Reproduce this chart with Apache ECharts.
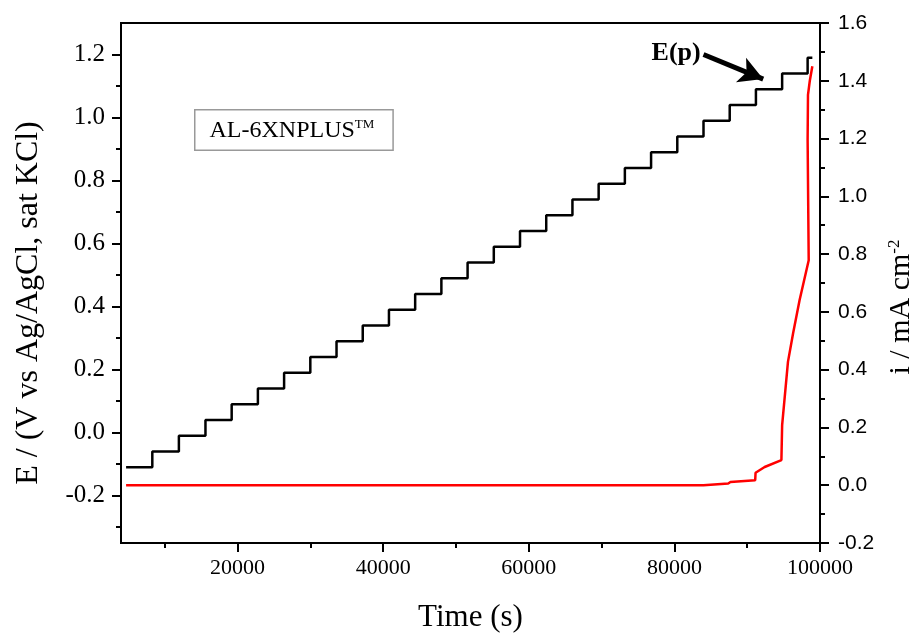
<!DOCTYPE html>
<html lang="en">
<head>
<meta charset="UTF-8" />
<title>AL-6XNPLUS</title>
<script src="https://cdn.jsdelivr.net/npm/echarts@6/dist/echarts.min.js"></script>
<style type="text/css">
    html, body { margin: 0; padding: 0; background: #fff; }
    #chart { width: 921px; height: 633px; }
</style>
</head>
<body>
<div id="chart"></div>
<script type="text/javascript">
// potential staircase: start time, then the time of every step (s)
var stepTimes = [4700, 8300, 11950, 15600, 19200, 22800, 26400, 30000, 33600, 37200,
    40800, 44400, 48000, 51600, 55200, 58800, 62400, 66000, 69600, 73200,
    76800, 80400, 84000, 87600, 91200, 94800, 98300];
// potential held after each of those times (V vs Ag/AgCl)
var stepLevels = [-0.11, -0.06, -0.01, 0.04, 0.09, 0.14, 0.19, 0.24, 0.29, 0.34,
    0.39, 0.44, 0.49, 0.54, 0.59, 0.64, 0.69, 0.74, 0.79, 0.84,
    0.89, 0.94, 0.99, 1.04, 1.09, 1.14, 1.19];
var endTime = 98950;

// current density (mA cm-2)
var currentTimes = [4700, 84000, 87400, 87700, 91100, 91150, 92400, 94700, 94800,
    95600, 96300, 97200, 98450, 98300, 98350, 98600, 98950];
var currentValues = [0.0, 0.0, 0.006, 0.011, 0.017, 0.043, 0.063, 0.087, 0.208,
    0.427, 0.525, 0.641, 0.779, 1.195, 1.351, 1.40, 1.45];

var xTicks = [20000, 40000, 60000, 80000, 100000];
var xMinorTicks = [10000, 30000, 50000, 70000, 90000];
var eTicks = [-0.2, 0.0, 0.2, 0.4, 0.6, 0.8, 1.0, 1.2];
var eMinorTicks = [-0.3, -0.1, 0.1, 0.3, 0.5, 0.7, 0.9, 1.1];

// E(p) arrow, tail and tip in data units
var arrowTail = [84000, 1.20];
var arrowTip = [92200, 1.122];

var serif = 'Liberation Serif';
var sans = 'Liberation Sans';

var potentialData = [];
for (var i = 0; i < stepTimes.length; i++) {
    potentialData.push([stepTimes[i], stepLevels[i]]);
}
potentialData.push([endTime, stepLevels[stepLevels.length - 1]]);

var currentData = [];
for (var j = 0; j < currentTimes.length; j++) {
    currentData.push([currentTimes[j], currentValues[j]]);
}

var chart = echarts.init(document.getElementById('chart'));
var blackLine = { show: true, onZero: false, lineStyle: { color: '#000', width: 2 } };

var option = {
    backgroundColor: '#fff',
    animation: false,
    grid: {
        left: 121, right: 101, top: 23, bottom: 90,
        show: true, borderColor: '#000', borderWidth: 2,
        containLabel: false, outerBoundsMode: 'none'
    },
    xAxis: [
        {
            type: 'value', min: 4000, max: 100000, position: 'bottom',
            axisLine: blackLine,
            axisTick: { show: true, inside: false, length: 9, customValues: xTicks, lineStyle: { color: '#000', width: 2 } },
            axisLabel: {
                customValues: xTicks, color: '#000', fontFamily: serif, fontSize: 22, margin: 14,
                formatter: function (v) { return String(v); }
            },
            splitLine: { show: false },
            name: 'Time (s)', nameLocation: 'middle', nameGap: 59,
            nameTextStyle: { color: '#000', fontFamily: serif, fontSize: 31 }
        },
        {
            type: 'value', min: 4000, max: 100000, position: 'bottom',
            axisLine: { show: false, onZero: false },
            axisTick: { show: true, inside: false, length: 5, customValues: xMinorTicks, lineStyle: { color: '#000', width: 2 } },
            axisLabel: { show: false },
            splitLine: { show: false }
        }
    ],
    yAxis: [
        {
            type: 'value', min: -0.35, max: 1.3, position: 'left',
            axisLine: blackLine,
            axisTick: { show: true, inside: false, length: 9, customValues: eTicks, lineStyle: { color: '#000', width: 2 } },
            axisLabel: {
                customValues: eTicks, color: '#000', fontFamily: serif, fontSize: 25, margin: 16,
                formatter: function (v) { return v.toFixed(1); }
            },
            splitLine: { show: false },
            name: 'E / (V vs Ag/AgCl, sat KCl)', nameLocation: 'middle', nameGap: 76, nameRotate: 90,
            nameTextStyle: { color: '#000', fontFamily: serif, fontSize: 32, padding: [0, 40, 0, 0] }
        },
        {
            type: 'value', min: -0.2, max: 1.6, interval: 0.2, position: 'right',
            axisLine: blackLine,
            axisTick: { show: true, inside: false, length: 9, lineStyle: { color: '#000', width: 2 } },
            minorTick: { show: true, splitNumber: 2, length: 5, lineStyle: { color: '#000', width: 2 } },
            axisLabel: {
                color: '#000', fontFamily: sans, fontSize: 21, margin: 18,
                formatter: function (v) { return v.toFixed(1); }
            },
            splitLine: { show: false },
            minorSplitLine: { show: false },
            name: 'i / mA cm{sup|-2}', nameLocation: 'middle', nameGap: 66, nameRotate: 90,
            nameTextStyle: {
                color: '#000', fontFamily: serif, fontSize: 30, padding: [0, 48, 0, 0],
                rich: { sup: { fontFamily: serif, fontSize: 17, color: '#000', verticalAlign: 'top' } }
            }
        },
        {
            type: 'value', min: -0.35, max: 1.3, position: 'left',
            axisLine: { show: false, onZero: false },
            axisTick: { show: true, inside: false, length: 5, customValues: eMinorTicks, lineStyle: { color: '#000', width: 2 } },
            axisLabel: { show: false },
            splitLine: { show: false }
        }
    ],
    graphic: [
        {
            type: 'text', left: 194, top: 109, z: 10,
            style: {
                text: '{a|AL-6XNPLUS}{s|TM}',
                rich: {
                    a: { fontFamily: serif, fontSize: 24, fill: '#000' },
                    s: { fontFamily: serif, fontSize: 13, fill: '#000', verticalAlign: 'top' }
                },
                backgroundColor: '#fff', borderColor: '#999', borderWidth: 1.5,
                padding: [8, 18, 7, 14]
            }
        }
    ],
    series: [
        {
            name: 'E', type: 'line', xAxisIndex: 0, yAxisIndex: 0,
            step: 'end', showSymbol: false, symbol: 'none',
            lineStyle: { color: '#000', width: 2.5 },
            data: potentialData,
            markLine: {
                silent: true, animation: false,
                symbol: ['none', 'arrow'], symbolSize: [20, 24],
                lineStyle: { color: '#000', width: 5, type: 'solid' },
                label: {
                    show: true, position: 'start', formatter: 'E(p)', distance: 3,
                    color: '#000', fontFamily: serif, fontSize: 26, fontWeight: 'bold'
                },
                data: [[{ coord: arrowTail }, { coord: arrowTip }]]
            }
        },
        {
            name: 'i', type: 'line', xAxisIndex: 0, yAxisIndex: 1,
            showSymbol: false, symbol: 'none',
            lineStyle: { color: '#ff0000', width: 2.5 },
            data: currentData
        }
    ]
};
chart.setOption(option);
</script>
</body>
</html>
